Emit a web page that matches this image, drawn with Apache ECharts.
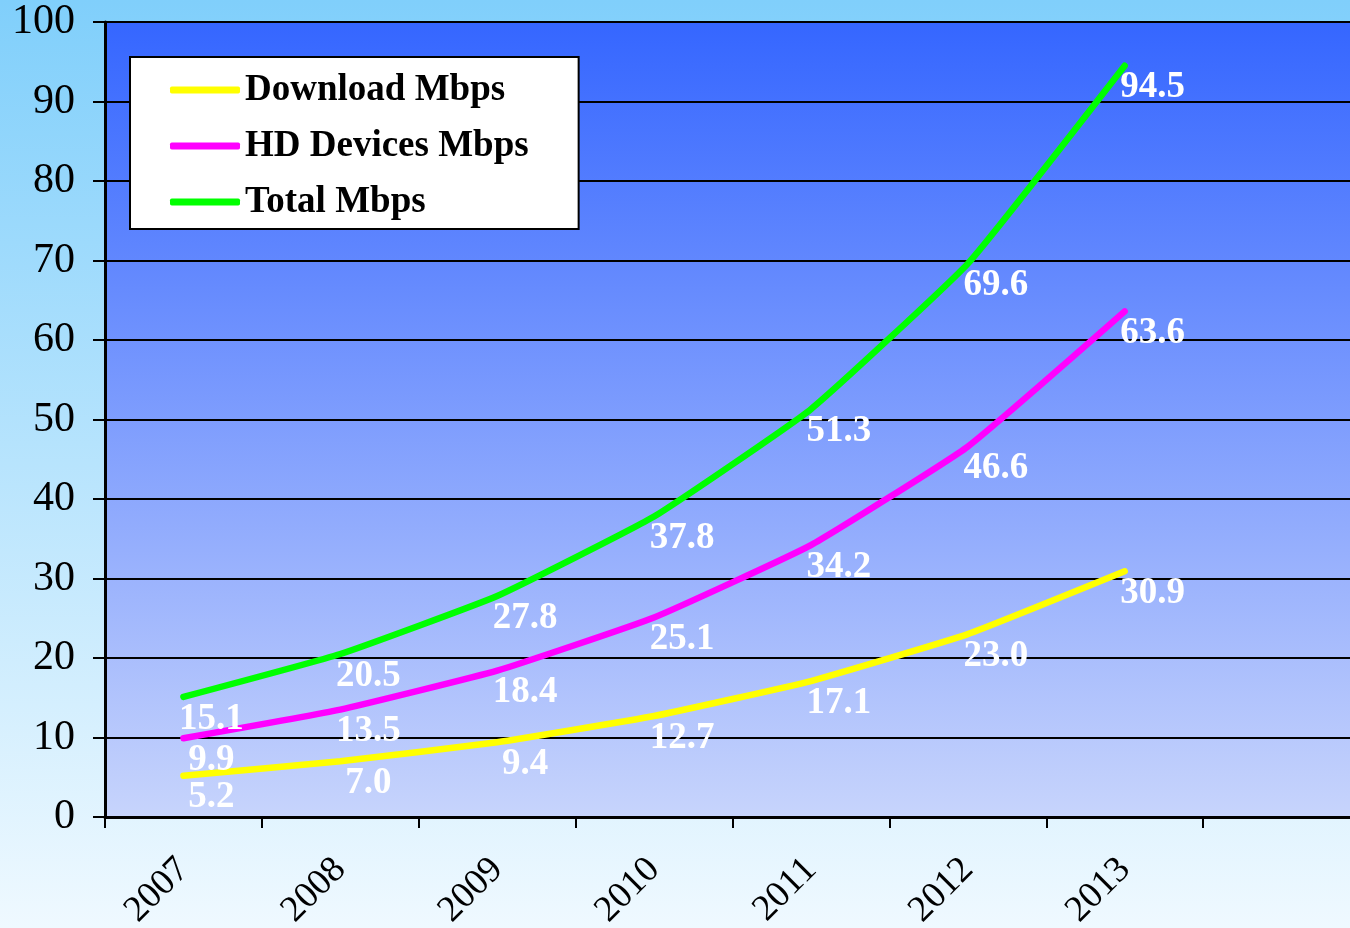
<!DOCTYPE html>
<html>
<head>
<meta charset="utf-8">
<script src="https://cdn.jsdelivr.net/npm/echarts@6/dist/echarts.min.js"></script>
<style>html,body{margin:0;padding:0;}#c{width:1350px;height:928px;}</style>
</head>
<body>
<div id="c"></div>
<script>
const categories = ['2007', '2008', '2009', '2010', '2011', '2012', '2013', ''];
const downloadMbps = [5.2, 7.0, 9.4, 12.7, 17.1, 23.0, 30.9];
const hdDevicesMbps = [9.9, 13.5, 18.4, 25.1, 34.2, 46.6, 63.6];
const totalMbps = [15.1, 20.5, 27.8, 37.8, 51.3, 69.6, 94.5];
const seriesNames = ['Download Mbps', 'HD Devices Mbps', 'Total Mbps'];
const yTicks = { min: 0, max: 100, interval: 10 };

const serif = '"Liberation Serif", "Times New Roman", serif';
const chart = echarts.init(document.getElementById('c'));

function mkSeries(name, data, color) {
  return {
    name: name, type: 'line', data: data, smooth: 0.12,
    symbol: 'circle', symbolSize: 0.1, showSymbol: true,
    lineStyle: { color: color, width: 6.5, cap: 'round', join: 'round' },
    itemStyle: { color: color },
    label: {
      show: true, position: 'inside', offset: [28, 22],
      color: '#ffffff', fontFamily: serif, fontWeight: 'bold', fontSize: 37,
      formatter: p => p.value.toFixed(1)
    },
    emphasis: { disabled: true }
  };
}

chart.setOption({
  animation: false,
  backgroundColor: new echarts.graphic.LinearGradient(0, 0, 0, 1, [
    { offset: 0, color: '#80cffb' }, { offset: 1, color: '#eff9ff' }
  ]),
  grid: {
    left: 105, top: 22, bottom: 111, right: -10, show: true, borderWidth: 0,
    outerBoundsMode: 'none', containLabel: false,
    backgroundColor: new echarts.graphic.LinearGradient(0, 0, 0, 1, [
      { offset: 0, color: '#3566ff' }, { offset: 1, color: '#c7d4fc' }
    ])
  },
  legend: {
    orient: 'vertical', left: 130, top: 57,
    backgroundColor: '#ffffff', borderColor: '#000000', borderWidth: 2,
    padding: [13, 50, 7, 40], itemGap: 16, itemWidth: 70, itemHeight: 7,
    icon: 'roundRect',
    textStyle: { fontFamily: serif, fontWeight: 'bold', fontSize: 37, color: '#000', lineHeight: 40 },
    data: seriesNames
  },
  xAxis: {
    type: 'category', data: categories, boundaryGap: true,
    axisLine: { lineStyle: { color: '#000', width: 3 } },
    axisTick: { show: true, interval: 0, length: 11, lineStyle: { color: '#000', width: 2 } },
    axisLabel: { interval: 0, rotate: 45, margin: 47, fontFamily: serif, fontSize: 37, color: '#000' }
  },
  yAxis: {
    type: 'value', min: yTicks.min, max: yTicks.max, interval: yTicks.interval,
    axisLine: { show: true, lineStyle: { color: '#000', width: 3 } },
    axisTick: { show: true, length: 12, lineStyle: { color: '#000', width: 2 } },
    splitLine: { lineStyle: { color: '#000', width: 2 } },
    axisLabel: { margin: 30, fontFamily: serif, fontSize: 42, color: '#000' }
  },
  series: [
    mkSeries(seriesNames[0], downloadMbps, '#ffff00'),
    mkSeries(seriesNames[1], hdDevicesMbps, '#ff00ff'),
    mkSeries(seriesNames[2], totalMbps, '#00ff00')
  ]
});
</script>
</body>
</html>
